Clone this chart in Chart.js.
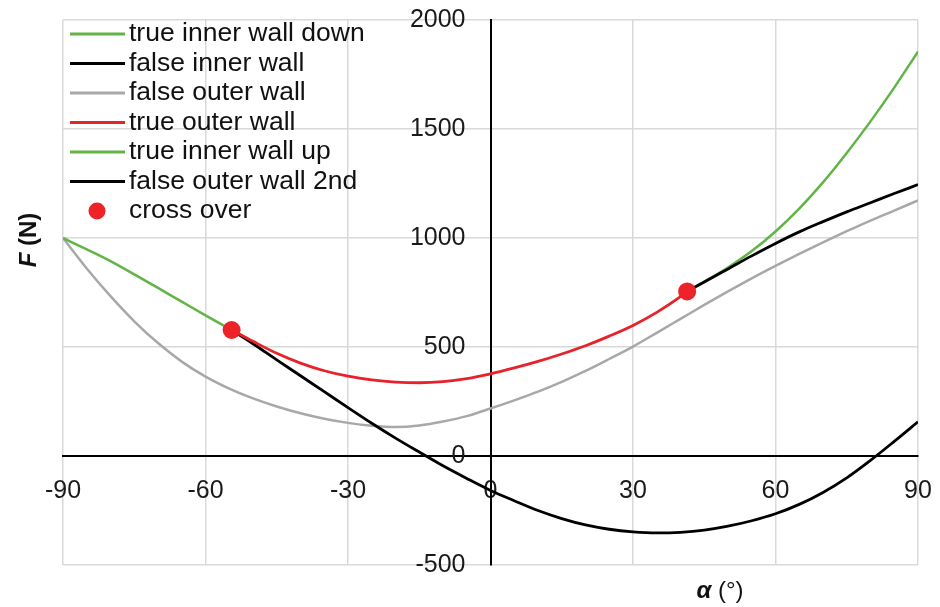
<!DOCTYPE html>
<html>
<head>
<meta charset="utf-8">
<script src="https://cdn.jsdelivr.net/npm/chart.js@4.4.1/dist/chart.umd.min.js"></script>
<style>
  html, body { margin: 0; padding: 0; background: #ffffff; }
  canvas { display: block; }
</style>
</head>
<body>
<canvas id="chart" width="940" height="607"></canvas>
<script>
// Wall reaction force F (N) against angle alpha (degrees)
const seriesNames = [
  'true inner wall down',
  'false inner wall',
  'false outer wall',
  'true outer wall',
  'true inner wall up',
  'false outer wall 2nd',
  'cross over'
];

const innerDownAlpha = [-90, -85, -80, -75, -70, -65, -60, -54.5];
const innerDownF     = [1000, 948, 894, 833, 771, 708, 645, 578];

const falseInnerAlpha = [-54.5, -50, -45, -40, -35, -30, -25, -20, -15, -10, -5, 0, 5, 10, 15, 20, 25, 30, 35, 40, 45, 50, 55, 60, 65, 70, 75, 80, 85, 90];
const falseInnerF     = [578, 515, 441, 368, 295, 222, 150, 82, 18, -45, -103, -158, -205, -250, -287, -316, -336, -348, -353, -350, -340, -322, -297, -265, -222, -167, -100, -20, 67, 157];

const falseOuterAlpha = [-90, -85, -80, -75, -70, -65, -60, -55, -50, -45, -40, -35, -30, -25, -20, -15, -10, -5, 0, 5, 10, 15, 20, 25, 30, 35, 40, 45, 50, 55, 60, 65, 70, 75, 80, 85, 90];
const falseOuterF     = [1000, 860, 733, 618, 518, 433, 364, 309, 264, 227, 196, 171, 152, 139, 133, 140, 158, 183, 218, 255, 295, 340, 390, 445, 502, 565, 629, 693, 755, 815, 872, 927, 980, 1031, 1080, 1126, 1172];

const trueOuterAlpha = [-54.5, -50, -45, -40, -35, -30, -25, -20, -15, -10, -5, 0, 5, 10, 15, 20, 25, 30, 35, 40, 41.4];
const trueOuterF     = [578, 526, 471, 426, 391, 366, 349, 339, 336, 341, 355, 377, 404, 434, 468, 506, 550, 599, 659, 731, 755];

const innerUpAlpha = [41.4, 45, 50, 55, 60, 65, 70, 75, 80, 85, 90];
const innerUpF     = [755, 800, 865, 940, 1030, 1135, 1255, 1390, 1535, 1690, 1855];

const falseOuter2Alpha = [41.4, 45, 50, 55, 60, 65, 70, 75, 80, 85, 90];
const falseOuter2F     = [755, 798, 858, 918, 975, 1028, 1075, 1120, 1162, 1204, 1245];

const crossAlpha = [-54.5, 41.4];
const crossF     = [578, 755];

const seriesColors = ['#62b446', '#000000', '#a8a8a8', '#e8222a', '#62b446', '#000000', '#ee2229'];

function points(xs, ys) {
  return xs.map((x, i) => ({ x: x, y: ys[i] }));
}

function curve(idx, xs, ys, width, order) {
  return {
    label: seriesNames[idx],
    data: points(xs, ys),
    showLine: true,
    borderColor: seriesColors[idx],
    backgroundColor: seriesColors[idx],
    borderWidth: width,
    pointRadius: 0,
    cubicInterpolationMode: 'monotone',
    fill: false,
    order: order
  };
}

const datasets = [
  curve(0, innerDownAlpha, innerDownF, 2.5, 3),
  curve(1, falseInnerAlpha, falseInnerF, 2.8, 2),
  curve(2, falseOuterAlpha, falseOuterF, 2.5, 4),
  curve(3, trueOuterAlpha, trueOuterF, 2.8, 1),
  curve(4, innerUpAlpha, innerUpF, 2.5, 3),
  curve(5, falseOuter2Alpha, falseOuter2F, 2.8, 2),
  {
    label: seriesNames[6],
    data: points(crossAlpha, crossF),
    showLine: false,
    pointRadius: 9,
    pointBackgroundColor: seriesColors[6],
    pointBorderColor: seriesColors[6],
    pointBorderWidth: 0,
    order: 0
  }
];

const FONT = '"Liberation Sans", Arial, sans-serif';

// Legend in the upper-left corner of the plot and the two axis titles
const annotations = {
  id: 'annotations',
  afterDraw(chart) {
    const ctx = chart.ctx;
    ctx.save();
    ctx.textBaseline = 'middle';
    ctx.textAlign = 'left';
    ctx.font = '26.5px ' + FONT;
    const x0 = 70, x1 = 125, tx = 129, y0 = 34, dy = 29.5;
    chart.data.datasets.forEach((ds, i) => {
      const y = y0 + i * dy;
      if (ds.showLine) {
        ctx.strokeStyle = ds.borderColor;
        ctx.lineWidth = 3;
        ctx.beginPath();
        ctx.moveTo(x0, y);
        ctx.lineTo(x1, y);
        ctx.stroke();
      } else {
        ctx.fillStyle = ds.pointBackgroundColor;
        ctx.beginPath();
        ctx.arc(97, y, 8.5, 0, Math.PI * 2);
        ctx.fill();
      }
      ctx.fillStyle = '#111111';
      ctx.fillText(ds.label, tx, y);
    });

    // y-axis title: F (N)
    ctx.save();
    ctx.translate(29, 240);
    ctx.rotate(-Math.PI / 2);
    ctx.fillStyle = '#111111';
    ctx.font = 'italic bold 24px ' + FONT;
    const wF = ctx.measureText('F').width;
    ctx.font = 'bold 24px ' + FONT;
    const wN = ctx.measureText(' (N)').width;
    let sx = -(wF + wN) / 2;
    ctx.font = 'italic bold 24px ' + FONT;
    ctx.fillText('F', sx, 0);
    ctx.font = 'bold 24px ' + FONT;
    ctx.fillText(' (N)', sx + wF, 0);
    ctx.restore();

    // x-axis title: alpha (deg)
    ctx.fillStyle = '#111111';
    ctx.font = 'italic bold 24px ' + FONT;
    const wA = ctx.measureText('α').width;
    ctx.font = '24px ' + FONT;
    const wD = ctx.measureText(' (°)').width;
    sx = 720 - (wA + wD) / 2;
    ctx.font = 'italic bold 24px ' + FONT;
    ctx.fillText('α', sx, 591);
    ctx.font = '24px ' + FONT;
    ctx.fillText(' (°)', sx + wA, 591);
    ctx.restore();
  }
};

// Axes cross at the origin; end-label padding is not needed for layout
function noEdgePadding(scale) {
  scale.paddingLeft = 0;
  scale.paddingRight = 0;
  scale.paddingTop = 0;
  scale.paddingBottom = 0;
}

new Chart(document.getElementById('chart'), {
  type: 'scatter',
  data: { datasets: datasets },
  options: {
    responsive: false,
    animation: false,
    events: [],
    layout: { padding: { left: 63, right: 22, top: 20, bottom: 42 } },
    plugins: {
      legend: { display: false },
      tooltip: { enabled: false }
    },
    scales: {
      x: {
        type: 'linear',
        min: -90,
        max: 90,
        position: { y: 0 },
        afterFit: noEdgePadding,
        ticks: {
          stepSize: 30,
          autoSkip: false,
          maxRotation: 0,
          padding: 20,
          color: '#1a1a1a',
          font: { family: FONT, size: 25 },
          callback: (v) => String(v)
        },
        grid: { color: '#d9d9d9', lineWidth: 1.5, drawTicks: false },
        border: { color: '#000000', width: 2 }
      },
      y: {
        type: 'linear',
        min: -500,
        max: 2000,
        position: { x: 0 },
        afterFit: noEdgePadding,
        ticks: {
          stepSize: 500,
          autoSkip: false,
          padding: 0,
          color: '#1a1a1a',
          font: { family: FONT, size: 25 },
          // em space keeps the labels clear of the vertical axis line
          callback: (v) => String(v) + '\u2003'
        },
        grid: { color: '#d9d9d9', lineWidth: 1.5, drawTicks: false },
        border: { color: '#000000', width: 2 }
      }
    }
  },
  plugins: [annotations]
});
</script>
</body>
</html>
